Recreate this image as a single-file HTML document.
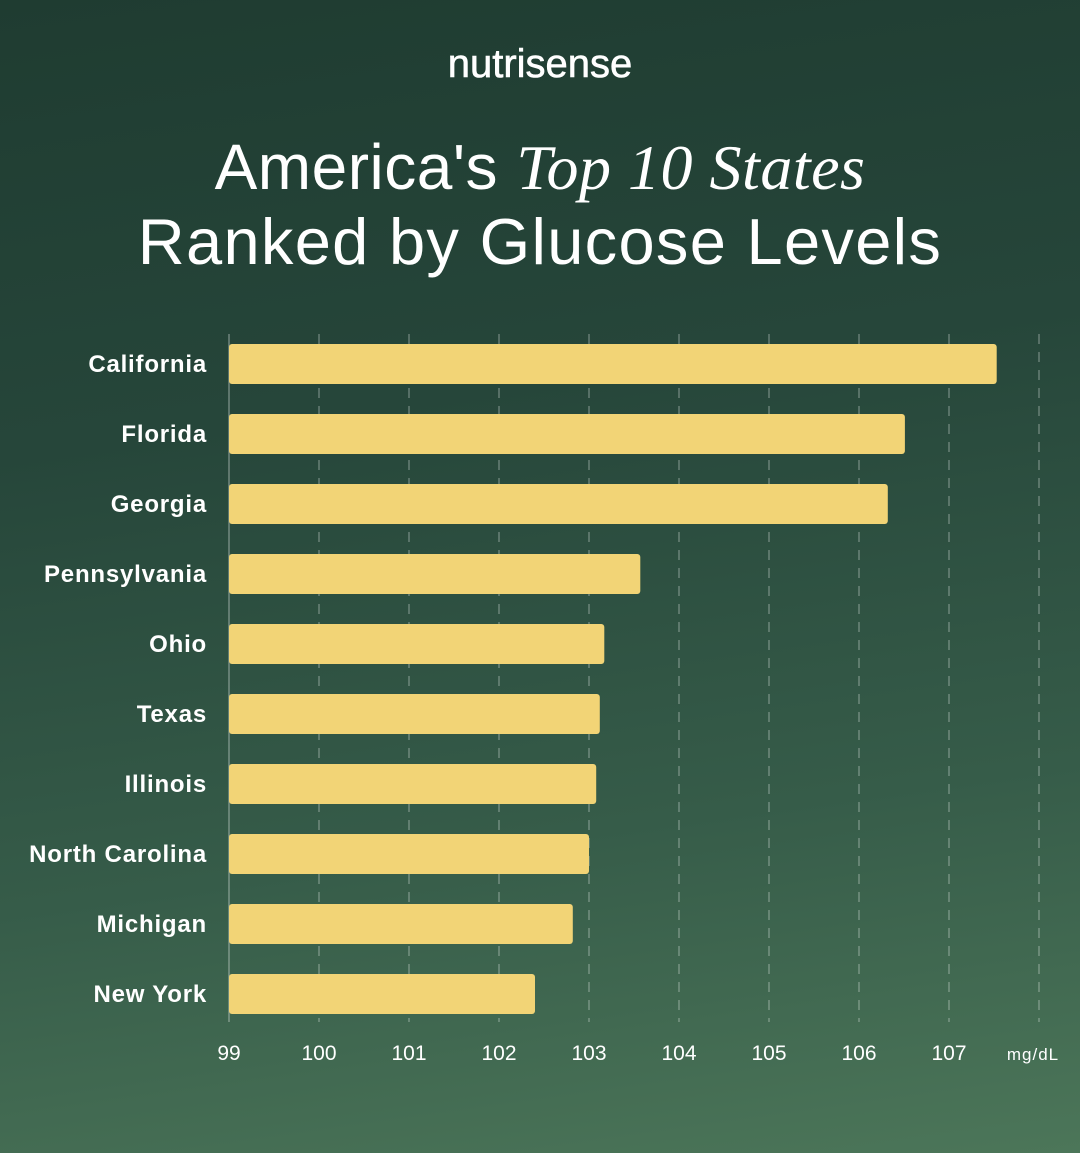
<!DOCTYPE html>
<html><head><meta charset="utf-8">
<style>
html,body{margin:0;padding:0}
body{width:1080px;height:1153px;overflow:hidden;font-family:"Liberation Sans",sans-serif;
background:linear-gradient(172deg,#1f3c31 0%,#26463a 35%,#365c49 70%,#4c7659 100%);position:relative;color:#fff}
.logo{position:absolute;top:42px;left:0;width:1080px;text-align:center;font-size:40px;letter-spacing:0px;-webkit-text-stroke:0.6px #fff}
.title{position:absolute;top:130px;left:0;width:1080px;text-align:center;font-size:64px;line-height:74px;letter-spacing:0.5px}
.title .l2{letter-spacing:1.3px;font-size:65px}
.title i{font-family:"Liberation Serif",serif;font-weight:normal}
svg{position:absolute;left:0;top:0}
</style></head><body>
<div class="logo">nutrisense</div>
<div class="title">America's <i>Top 10 States</i><br><span class="l2">Ranked by Glucose Levels</span></div>
<svg id="chart" width="1080" height="1153"></svg>
<script>
const categories=["California","Florida","Georgia","Pennsylvania","Ohio","Texas","Illinois","North Carolina","Michigan","New York"];
const values=[107.53,106.51,106.32,103.57,103.17,103.12,103.08,103.0,102.82,102.4];
const ticks=[99,100,101,102,103,104,105,106,107];
const unitLabel="mg/dL";
const NS="http://www.w3.org/2000/svg";
const svg=document.getElementById('chart');
const x0=229,pxPer=90,xMin=99;
const xs=v=>x0+(v-xMin)*pxPer;
const ys=i=>364+i*70;
function mk(t,a){const e=document.createElementNS(NS,t);for(const k in a)e.setAttribute(k,a[k]);svg.appendChild(e);return e;}
for(let t=100;t<=108;t++){
 const g=mk('line',{x1:xs(t),x2:xs(t),y1:334,y2:1022,stroke:'rgba(255,255,255,0.3)','stroke-width':1.5,'stroke-dasharray':'10 8'});
 
 
}
const ax=mk('line',{x1:x0,x2:x0,y1:334,y2:1022,stroke:'rgba(255,255,255,0.35)','stroke-width':1.5});


categories.forEach((c,i)=>{
 const b=mk('rect',{x:x0,y:ys(i)-20,width:xs(values[i])-x0,height:40,rx:3,fill:'#f2d476'});
 
 
 const l=mk('text',{x:207,y:ys(i)+8,'text-anchor':'end','font-size':24,'font-weight':'bold',fill:'#fff','font-family':'Liberation Sans, sans-serif','letter-spacing':0.8});
 l.textContent=c;
 
 
});
ticks.forEach(t=>{
 const l=mk('text',{x:xs(t),y:1060,'text-anchor':'middle','font-size':21,fill:'#fff','font-family':'Liberation Sans, sans-serif'});
 l.textContent=t;
 
 
});
const u=mk('text',{x:1033,y:1060,'text-anchor':'middle','font-size':17,fill:'#fff','font-family':'Liberation Sans, sans-serif','letter-spacing':1});
u.textContent=unitLabel;


</script>
</body></html>
